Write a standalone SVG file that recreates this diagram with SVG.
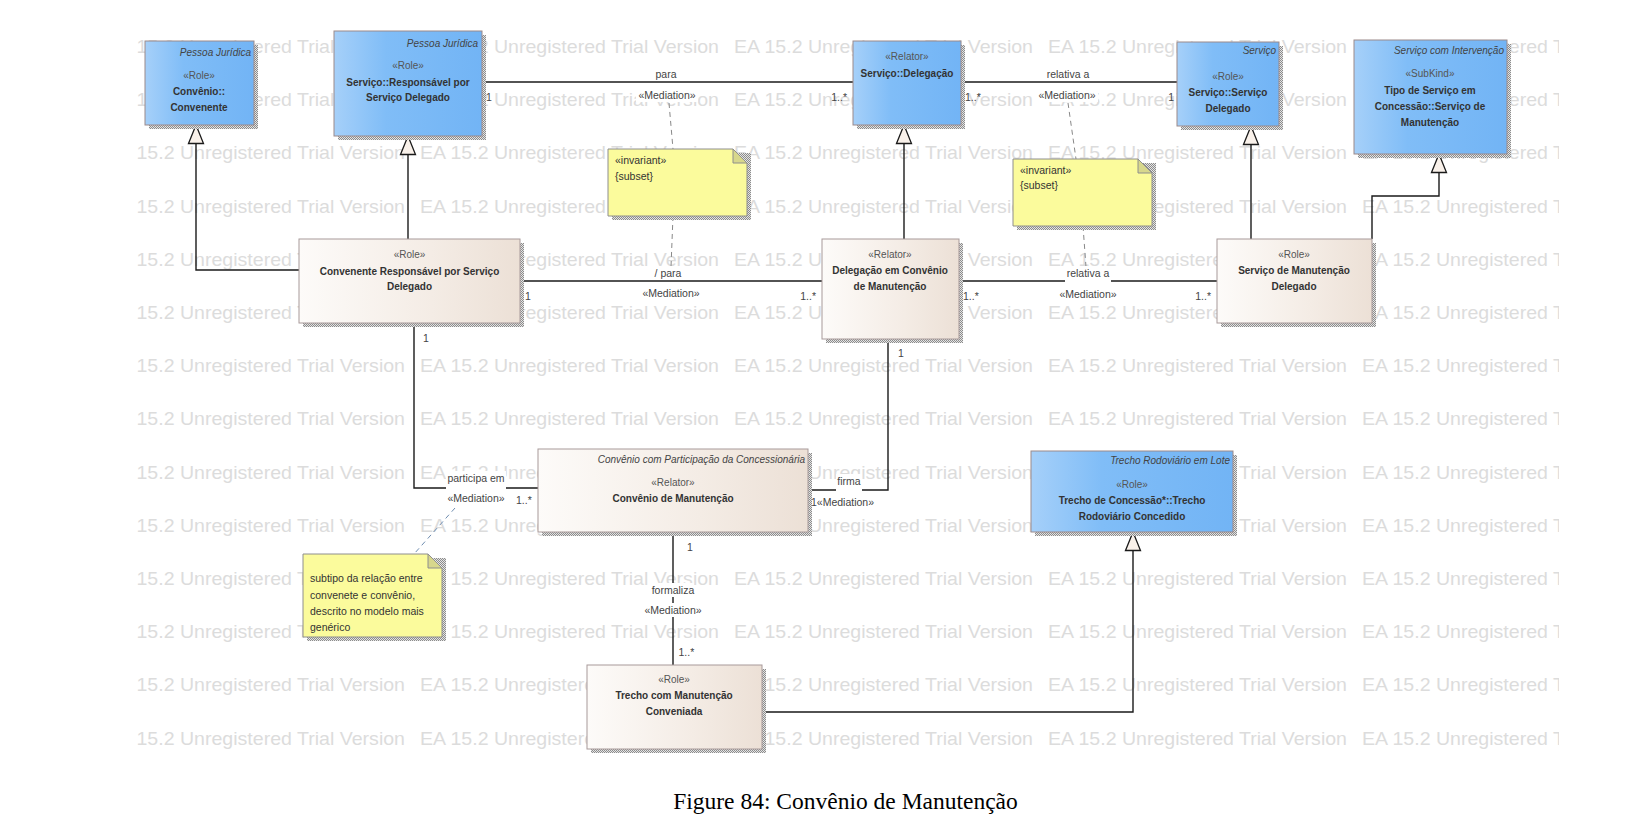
<svg xmlns="http://www.w3.org/2000/svg" xmlns:xlink="http://www.w3.org/1999/xlink" width="1652" height="840" viewBox="0 0 1652 840">
<style>
.wm{font-family:"Liberation Sans",Arial,sans-serif;font-size:19px;fill:#dcdcdc}
.st{font-family:"Liberation Sans",Arial,sans-serif;font-size:10px;fill:#555;text-anchor:middle}
.nm{font-family:"Liberation Sans",Arial,sans-serif;font-size:10px;font-weight:bold;fill:#333;text-anchor:middle}
.ns{font-family:"Liberation Sans",Arial,sans-serif;font-size:10px;font-style:italic;fill:#444;text-anchor:end}
.lb{font-family:"Liberation Sans",Arial,sans-serif;font-size:10.5px;fill:#444}
.mid{text-anchor:middle}
.end{text-anchor:end}
.nt{font-family:"Liberation Sans",Arial,sans-serif;font-size:10.5px;fill:#333}
.blue{fill:url(#gBlue);stroke:#9c8a8a;stroke-width:1}
.beige{fill:url(#gBeige);stroke:#a89a9a;stroke-width:1}
.shadow{fill:url(#pShadow)}
.note{fill:#fbfb9c;stroke:#8e8e8e;stroke-width:1}
.fold{fill:#d7d78c;stroke:#8e8e8e;stroke-width:1}
.conn{stroke:#1a1a1a;stroke-width:1.4;fill:none}
.dash{stroke:#888;stroke-width:1;stroke-dasharray:5,4;fill:none}
.bg{fill:#fff}
.cap{font-family:"Liberation Serif","Times New Roman",serif;font-size:23.5px;fill:#000;text-anchor:middle}
</style>
<defs>
<linearGradient id="gBlue" x1="0" y1="0" x2="1" y2="0">
<stop offset="0" stop-color="#a6d0f9"/>
<stop offset="0.35" stop-color="#80bdf7"/>
<stop offset="1" stop-color="#72b4f5"/>
</linearGradient>
<linearGradient id="gBeige" x1="0" y1="0" x2="1" y2="0">
<stop offset="0" stop-color="#fdfbf9"/>
<stop offset="0.6" stop-color="#f4ece5"/>
<stop offset="1" stop-color="#ece0d6"/>
</linearGradient>
<pattern id="pShadow" width="2" height="2" patternUnits="userSpaceOnUse">
<rect width="2" height="2" fill="#e4e4e4"/>
<rect width="1" height="1" fill="#8c8c8c"/>
<rect x="1" y="1" width="1" height="1" fill="#8c8c8c"/>
</pattern>
<marker id="gen" markerUnits="userSpaceOnUse" markerWidth="22" markerHeight="18" viewBox="0 0 22 18" refX="20" refY="9" orient="auto">
<path d="M1.5,1.5 L20,9 L1.5,16.5 Z" fill="#f9f1ea" stroke="#1a1a1a" stroke-width="1.3"/>
</marker>
<clipPath id="wmClip"><rect x="137" y="30" width="1422" height="722"/></clipPath>
<g id="wmrow">
<text class="wm" x="106" y="0" textLength="299" lengthAdjust="spacingAndGlyphs">EA 15.2 Unregistered Trial Version</text>
<text class="wm" x="420" y="0" textLength="299" lengthAdjust="spacingAndGlyphs">EA 15.2 Unregistered Trial Version</text>
<text class="wm" x="734" y="0" textLength="299" lengthAdjust="spacingAndGlyphs">EA 15.2 Unregistered Trial Version</text>
<text class="wm" x="1048" y="0" textLength="299" lengthAdjust="spacingAndGlyphs">EA 15.2 Unregistered Trial Version</text>
<text class="wm" x="1362" y="0" textLength="299" lengthAdjust="spacingAndGlyphs">EA 15.2 Unregistered Trial Version</text>
</g>
</defs>
<rect width="1652" height="840" fill="#fff"/>
<g id="watermark" clip-path="url(#wmClip)">
<use xlink:href="#wmrow" href="#wmrow" y="53"/>
<use xlink:href="#wmrow" href="#wmrow" y="106.2"/>
<use xlink:href="#wmrow" href="#wmrow" y="159.4"/>
<use xlink:href="#wmrow" href="#wmrow" y="212.6"/>
<use xlink:href="#wmrow" href="#wmrow" y="265.8"/>
<use xlink:href="#wmrow" href="#wmrow" y="319"/>
<use xlink:href="#wmrow" href="#wmrow" y="372.2"/>
<use xlink:href="#wmrow" href="#wmrow" y="425.4"/>
<use xlink:href="#wmrow" href="#wmrow" y="478.6"/>
<use xlink:href="#wmrow" href="#wmrow" y="531.8"/>
<use xlink:href="#wmrow" href="#wmrow" y="585"/>
<use xlink:href="#wmrow" href="#wmrow" y="638.2"/>
<use xlink:href="#wmrow" href="#wmrow" y="691.4"/>
<use xlink:href="#wmrow" href="#wmrow" y="744.6"/>
</g>

<g id="connectors">
<path class="conn" d="M482,82 H853"/>
<path class="conn" d="M961,82 H1177"/>
<path class="conn" d="M520,281 H822"/>
<path class="conn" d="M959,281 H1217"/>
<path class="conn" d="M414,323 V488 H538"/>
<path class="conn" d="M888,339 V490 H808"/>
<path class="conn" d="M673,532 V665"/>
<path class="conn" d="M299,270 H196 V125" marker-end="url(#gen)"/>
<path class="conn" d="M408,239 V136" marker-end="url(#gen)"/>
<path class="conn" d="M904,239 V125" marker-end="url(#gen)"/>
<path class="conn" d="M1251,239 V126" marker-end="url(#gen)"/>
<path class="conn" d="M1372,239 V196 H1439 V154" marker-end="url(#gen)"/>
<path class="conn" d="M762,712 H1133 V532" marker-end="url(#gen)"/>
<path class="dash" d="M669,103 L673,149"/>
<path class="dash" d="M673,216 L671,267"/>
<path class="dash" d="M1068,103 L1076,159"/>
<path class="dash" d="M1083,226 L1086,267"/>
<path class="dash" d="M455,508 L414,554" style="stroke:#6f8db0"/>
<g id="labels">
<rect class="bg" x="655" y="67" width="22" height="14"/>
<rect class="bg" x="636" y="88" width="62" height="14"/>
<rect class="bg" x="1045" y="67" width="46" height="14"/>
<rect class="bg" x="1036" y="88" width="62" height="14"/>
<rect class="bg" x="654" y="266" width="28" height="14"/>
<rect class="bg" x="640" y="286" width="62" height="14"/>
<rect class="bg" x="1065" y="266" width="46" height="17"/>
<rect class="bg" x="1057" y="286" width="62" height="14"/>
<rect class="bg" x="446" y="471" width="60" height="19"/>
<rect class="bg" x="445" y="491" width="62" height="14"/>
<rect class="bg" x="836" y="474" width="26" height="18"/>
<rect class="bg" x="818" y="497" width="62" height="13"/>
<rect class="bg" x="652" y="583" width="42" height="14"/>
<rect class="bg" x="642" y="603" width="62" height="14"/>
<text class="lb mid" x="666" y="78">para</text>
<text class="lb mid" x="667" y="98.5">«Mediation»</text>
<text class="lb" x="486" y="101">1</text>
<text class="lb end" x="847" y="101">1..*</text>
<text class="lb mid" x="1068" y="78">relativa a</text>
<text class="lb mid" x="1067" y="98.5">«Mediation»</text>
<text class="lb" x="965" y="101">1..*</text>
<text class="lb end" x="1174" y="101">1</text>
<text class="lb mid" x="668" y="277">/ para</text>
<text class="lb mid" x="671" y="296.5">«Mediation»</text>
<text class="lb" x="525" y="299.5">1</text>
<text class="lb end" x="816" y="299.5">1..*</text>
<text class="lb mid" x="1088" y="277">relativa a</text>
<text class="lb mid" x="1088" y="297.5">«Mediation»</text>
<text class="lb" x="963" y="299.5">1..*</text>
<text class="lb end" x="1211" y="299.5">1..*</text>
<text class="lb" x="423" y="341.5">1</text>
<text class="lb mid" x="476" y="482">participa em</text>
<text class="lb mid" x="476" y="502">«Mediation»</text>
<text class="lb" x="516" y="504">1..*</text>
<text class="lb" x="898" y="356.5">1</text>
<text class="lb mid" x="849" y="485">firma</text>
<text class="lb" x="811" y="506">1«Mediation»</text>
<text class="lb" x="687" y="550.5">1</text>
<text class="lb mid" x="673" y="593.5">formaliza</text>
<text class="lb mid" x="673" y="613.5">«Mediation»</text>
<text class="lb" x="678.5" y="655.5">1..*</text>
</g>
</g>

<g id="node-convenente">
<rect class="shadow" x="149" y="45" width="109" height="84"/>
<rect class="blue" x="145" y="41" width="109" height="84"/>
<text class="ns" x="251" y="56">Pessoa Jurídica</text>
<text class="st" x="199" y="78.5">«Role»</text>
<text class="nm" x="199" y="95">Convênio::</text>
<text class="nm" x="199" y="110.5">Convenente</text>
</g>
<g id="node-responsavel">
<rect class="shadow" x="338" y="35" width="148" height="105"/>
<rect class="blue" x="334" y="31" width="148" height="105"/>
<text class="ns" x="478" y="47">Pessoa Jurídica</text>
<text class="st" x="408" y="69">«Role»</text>
<text class="nm" x="408" y="86">Serviço::Responsável por</text>
<text class="nm" x="408" y="101">Serviço Delegado</text>
</g>
<g id="node-delegacao">
<rect class="shadow" x="857" y="45" width="108" height="84"/>
<rect class="blue" x="853" y="41" width="108" height="84"/>
<text class="st" x="907" y="59.5">«Relator»</text>
<text class="nm" x="907" y="76.5">Serviço::Delegação</text>
</g>
<g id="node-servico-delegado">
<rect class="shadow" x="1181" y="46" width="102" height="84"/>
<rect class="blue" x="1177" y="42" width="102" height="84"/>
<text class="ns" x="1276" y="54">Serviço</text>
<text class="st" x="1228" y="79.5">«Role»</text>
<text class="nm" x="1228" y="96">Serviço::Serviço</text>
<text class="nm" x="1228" y="112">Delegado</text>
</g>
<g id="node-tipo-servico">
<rect class="shadow" x="1358" y="44" width="153" height="114"/>
<rect class="blue" x="1354" y="40" width="153" height="114"/>
<text class="ns" x="1504" y="54">Serviço com Intervenção</text>
<text class="st" x="1430" y="77">«SubKind»</text>
<text class="nm" x="1430" y="94">Tipo de Serviço em</text>
<text class="nm" x="1430" y="110">Concessão::Serviço de</text>
<text class="nm" x="1430" y="126">Manutenção</text>
</g>
<g id="node-convenente-responsavel">
<rect class="shadow" x="303" y="243" width="221" height="84"/>
<rect class="beige" x="299" y="239" width="221" height="84"/>
<text class="st" x="409.5" y="257.5">«Role»</text>
<text class="nm" x="409.5" y="274.5">Convenente Responsável por Serviço</text>
<text class="nm" x="409.5" y="290">Delegado</text>
</g>
<g id="node-delegacao-convenio">
<rect class="shadow" x="826" y="243" width="137" height="100"/>
<rect class="beige" x="822" y="239" width="137" height="100"/>
<text class="st" x="890" y="257.5">«Relator»</text>
<text class="nm" x="890" y="274">Delegação em Convênio</text>
<text class="nm" x="890" y="289.5">de Manutenção</text>
</g>
<g id="node-servico-manutencao">
<rect class="shadow" x="1221" y="243" width="155" height="84"/>
<rect class="beige" x="1217" y="239" width="155" height="84"/>
<text class="st" x="1294" y="257.5">«Role»</text>
<text class="nm" x="1294" y="274">Serviço de Manutenção</text>
<text class="nm" x="1294" y="289.5">Delegado</text>
</g>
<g id="node-convenio-manutencao">
<rect class="shadow" x="542" y="453" width="270" height="83"/>
<rect class="beige" x="538" y="449" width="270" height="83"/>
<text class="ns" x="805" y="463">Convênio com Participação da Concessionária</text>
<text class="st" x="673" y="486">«Relator»</text>
<text class="nm" x="673" y="502">Convênio de Manutenção</text>
</g>
<g id="node-trecho-rodoviario">
<rect class="shadow" x="1035" y="455" width="202" height="81"/>
<rect class="blue" x="1031" y="451" width="202" height="81"/>
<text class="ns" x="1230" y="464">Trecho Rodoviário em Lote</text>
<text class="st" x="1132" y="488">«Role»</text>
<text class="nm" x="1132" y="504">Trecho de Concessão*::Trecho</text>
<text class="nm" x="1132" y="519.5">Rodoviário Concedido</text>
</g>
<g id="node-trecho-manutencao">
<rect class="shadow" x="591" y="669" width="175" height="84"/>
<rect class="beige" x="587" y="665" width="175" height="84"/>
<text class="st" x="674" y="683">«Role»</text>
<text class="nm" x="674" y="699">Trecho com Manutenção</text>
<text class="nm" x="674" y="714.5">Conveniada</text>
</g>
<g id="note-1">
<rect class="shadow" x="612" y="153" width="139" height="67"/>
<path class="note" d="M608,149 H733 L747,163 V216 H608 Z"/>
<path class="fold" d="M733,149 V163 H747 Z"/>
<text class="nt" x="615" y="164">«invariant»</text>
<text class="nt" x="615" y="180">{subset}</text>
</g>
<g id="note-2">
<rect class="shadow" x="1017" y="163" width="139" height="67"/>
<path class="note" d="M1013,159 H1138 L1152,173 V226 H1013 Z"/>
<path class="fold" d="M1138,159 V173 H1152 Z"/>
<text class="nt" x="1020" y="173.5">«invariant»</text>
<text class="nt" x="1020" y="189">{subset}</text>
</g>
<g id="note-3">
<rect class="shadow" x="307" y="558" width="139" height="83"/>
<path class="note" d="M303,554 H428 L442,568 V637 H303 Z"/>
<path class="fold" d="M428,554 V568 H442 Z"/>
<text class="nt" x="310" y="582">subtipo da relação entre</text>
<text class="nt" x="310" y="598.5">convenete e convênio,</text>
<text class="nt" x="310" y="614.5">descrito no modelo mais</text>
<text class="nt" x="310" y="630.5">genérico</text>
</g>
<text class="cap" x="845.5" y="809">Figure 84: Convênio de Manutenção</text>
</svg>
